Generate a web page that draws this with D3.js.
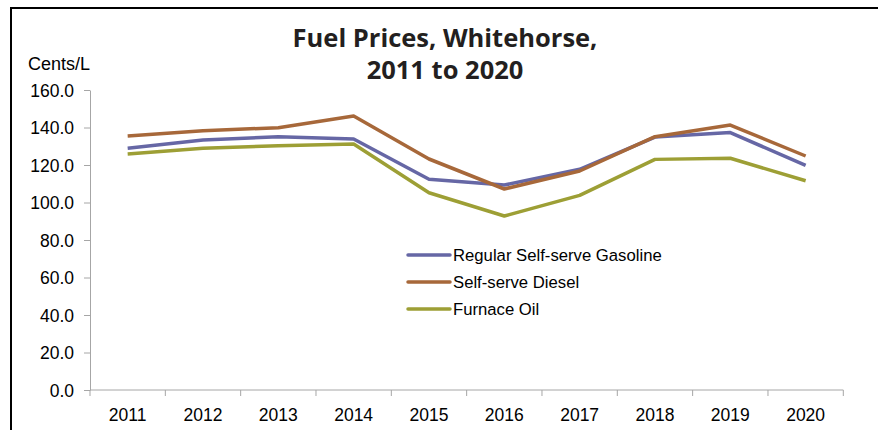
<!DOCTYPE html>
<html>
<head>
<meta charset="utf-8">
<script src="https://cdn.jsdelivr.net/npm/d3@7"></script>
<style>
  body { margin: 0; background: #fff; }
  svg { display: block; }
  .tick text { font-family: "Liberation Sans", Arial, sans-serif; font-size: 17.5px; fill: #000; }
</style>
</head>
<body>
<div id="chart"></div>
<script>
// chart values
const years = ['2011', '2012', '2013', '2014', '2015', '2016', '2017', '2018', '2019', '2020'];
const gasoline = [128.9, 133.3, 135.1, 133.9, 112.4, 109.3, 117.7, 134.9, 137.3, 119.8];
const diesel = [135.5, 138.3, 139.9, 146.1, 123.2, 107.2, 116.8, 135.1, 141.3, 124.8];
const furnaceOil = [125.9, 128.9, 130.3, 131.2, 105.2, 92.8, 103.8, 123.0, 123.6, 111.6];
const seriesNames = ['Regular Self-serve Gasoline', 'Self-serve Diesel', 'Furnace Oil'];
const yTicks = [0, 20, 40, 60, 80, 100, 120, 140, 160];

const W = 878, H = 430;
const margin = { top: 90, right: 35, bottom: 40, left: 90 };
const colors = ['#6667a5', '#a7683a', '#9d9f35'];

const svg = d3.select('#chart').append('svg')
  .attr('width', W)
  .attr('height', H);

// frame (top and left edges only)
svg.append('path')
  .attr('d', `M11,${H} V8 H${W}`)
  .attr('fill', 'none')
  .attr('stroke', '#000')
  .attr('stroke-width', 2);

// title
const title = svg.append('text')
  .attr('text-anchor', 'middle')
  .attr('font-family', '"Open Sans", sans-serif')
  .attr('font-weight', 700)
  .attr('font-size', 25.5)
  .attr('fill', '#231f20');
title.append('tspan').attr('x', 445).attr('y', 47).text('Fuel Prices, Whitehorse,');
title.append('tspan').attr('x', 445).attr('y', 79).text('2011 to 2020');

svg.append('text')
  .attr('x', 28)
  .attr('y', 70)
  .attr('font-family', '"Liberation Sans", Arial, sans-serif')
  .attr('font-size', 18)
  .attr('fill', '#000')
  .text('Cents/L');

const x = d3.scaleBand().domain(years).range([margin.left, 843.3]);
const y = d3.scaleLinear().domain([0, 160]).range([390, margin.top]);

const g = svg.append('g');

// y axis
const yAxis = g.append('g')
  .attr('transform', `translate(${margin.left},0)`)
  .call(d3.axisLeft(y).tickValues(yTicks).tickFormat(d3.format('.1f')).tickSize(6).tickSizeOuter(0).tickPadding(10));
yAxis.select('.domain').attr('stroke', '#a6a6a6');
yAxis.selectAll('.tick line').attr('stroke', '#a6a6a6');
yAxis.selectAll('.tick text').attr('dy', '0.36em');

// x axis with ticks on band edges
const xAxis = g.append('g')
  .attr('transform', `translate(0,${y(0)})`);
xAxis.append('line')
  .attr('x1', x.range()[0]).attr('x2', x.range()[1])
  .attr('stroke', '#a6a6a6');
const edges = years.map(d => x(d)).concat([x.range()[1]]);
xAxis.selectAll('.edge').data(edges).enter().append('line')
  .attr('class', 'edge')
  .attr('x1', d => d).attr('x2', d => d)
  .attr('y1', 0).attr('y2', 6)
  .attr('stroke', '#a6a6a6');
xAxis.selectAll('.lbl').data(years).enter().append('text')
  .attr('class', 'lbl')
  .attr('x', d => x(d) + x.bandwidth() / 2)
  .attr('y', 31)
  .attr('text-anchor', 'middle')
  .attr('font-family', '"Liberation Sans", Arial, sans-serif')
  .attr('font-size', 17.5)
  .attr('fill', '#000')
  .text(d => d);

// lines
const allSeries = [gasoline, diesel, furnaceOil];
const line = d3.line()
  .x((d, i) => x(years[i]) + x.bandwidth() / 2)
  .y(d => y(d));

// furnace oil drawn first, gasoline above it, diesel on top
[2, 0, 1].forEach(k => {
  g.append('path')
    .datum(allSeries[k])
    .attr('fill', 'none')
    .attr('stroke', colors[k])
    .attr('stroke-width', 3.5)
    .attr('stroke-linejoin', 'round')
    .attr('d', line);
});

// legend
const legend = svg.append('g').attr('transform', 'translate(408,255)');
seriesNames.forEach((name, i) => {
  const row = legend.append('g').attr('transform', `translate(0,${i * 27})`);
  row.append('line')
    .attr('x1', 0).attr('x2', 42)
    .attr('stroke', colors[i])
    .attr('stroke-width', 3.5)
    .attr('stroke-linecap', 'round');
  row.append('text')
    .attr('x', 45)
    .attr('y', 6)
    .attr('font-family', '"Liberation Sans", Arial, sans-serif')
    .attr('font-size', 16.7)
    .attr('fill', '#000')
    .text(name);
});
</script>
</body>
</html>
